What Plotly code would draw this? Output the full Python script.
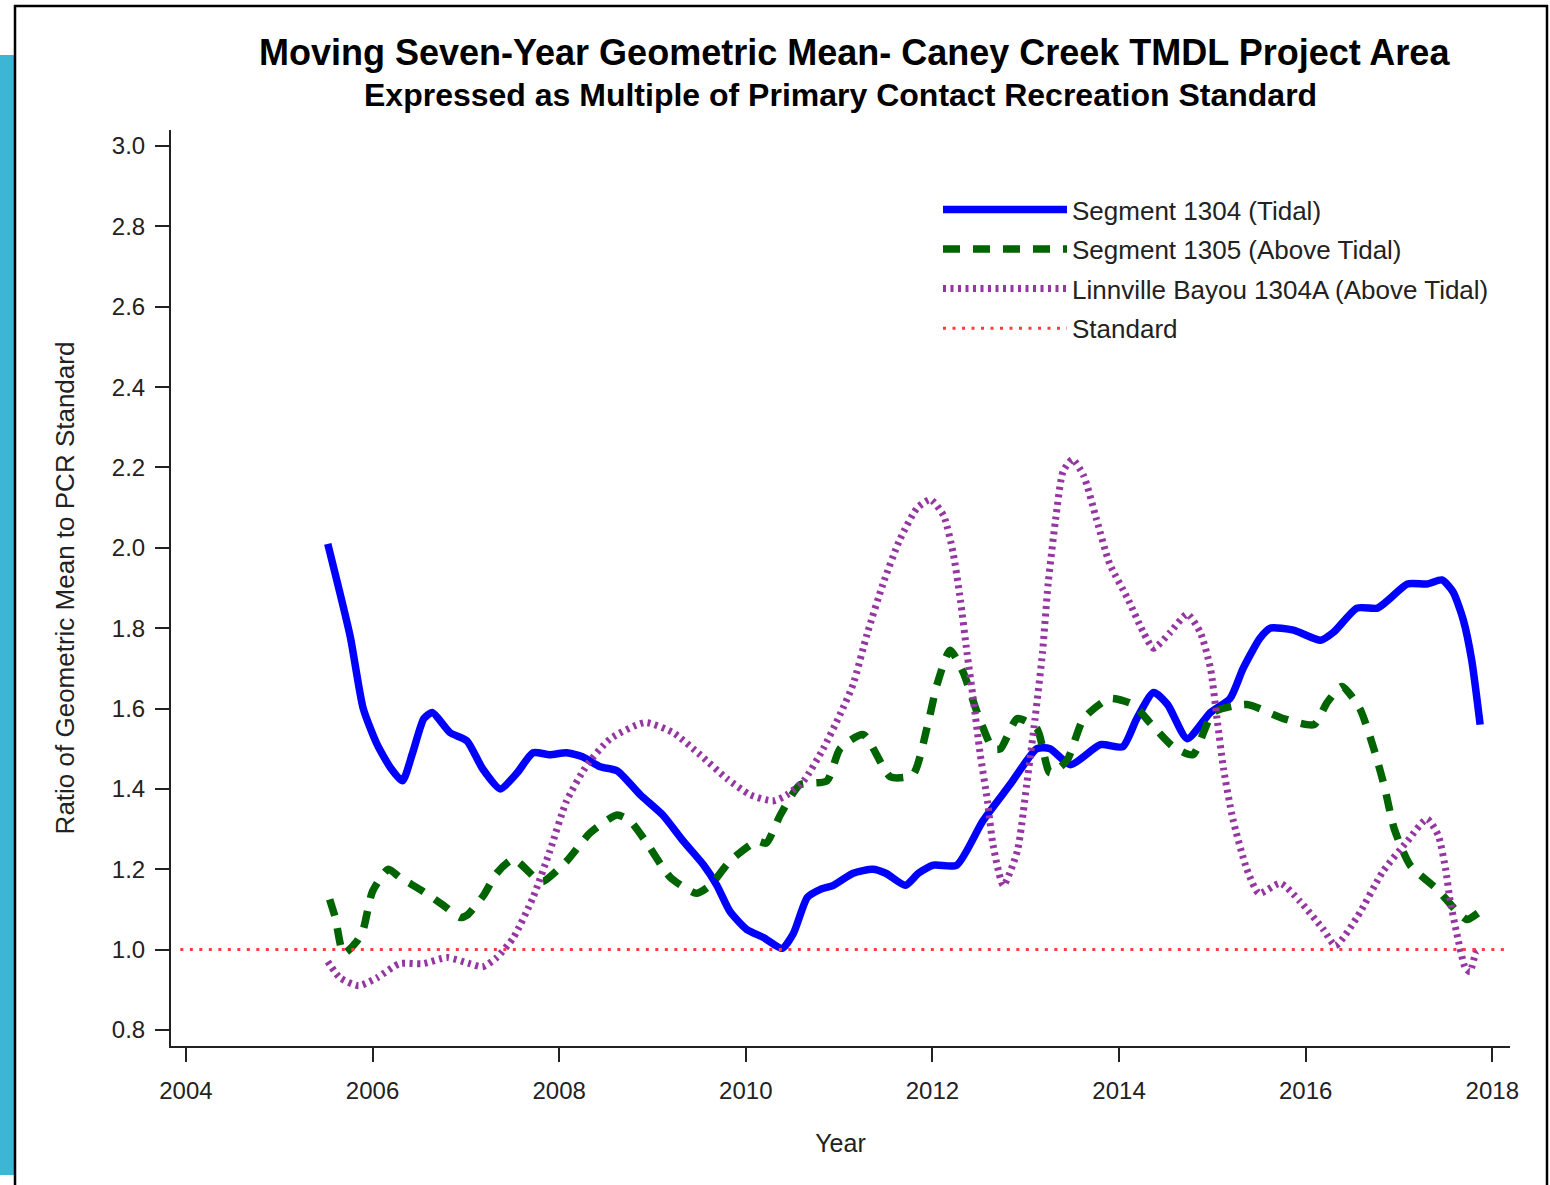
import plotly.graph_objects as go

# Segment 1304 (Tidal)
seg1304_year = [2005.52, 2005.76, 2005.90, 2006.05, 2006.20, 2006.32, 2006.43, 2006.55, 2006.64,
                2006.83, 2007.01, 2007.18, 2007.37, 2007.55, 2007.72, 2007.90, 2008.08, 2008.25,
                2008.44, 2008.62, 2008.87, 2009.11, 2009.33, 2009.55, 2009.69, 2009.83, 2010.01,
                2010.19, 2010.39, 2010.51, 2010.66, 2010.80, 2010.94, 2011.15, 2011.36, 2011.50,
                2011.71, 2011.85, 2012.01, 2012.26, 2012.54, 2012.83, 2013.12, 2013.26, 2013.48,
                2013.80, 2014.04, 2014.19, 2014.37, 2014.52, 2014.73, 2014.98, 2015.19, 2015.33,
                2015.51, 2015.62, 2015.87, 2016.16, 2016.30, 2016.55, 2016.77, 2016.91, 2017.09,
                2017.30, 2017.46, 2017.58, 2017.69, 2017.78, 2017.87]
seg1304_val = [2.01, 1.78, 1.60, 1.51, 1.45, 1.42, 1.49, 1.575, 1.59,
               1.54, 1.52, 1.45, 1.40, 1.44, 1.49, 1.485, 1.49, 1.48,
               1.455, 1.445, 1.385, 1.335, 1.27, 1.21, 1.16, 1.095, 1.05,
               1.03, 1.003, 1.04, 1.13, 1.15, 1.16, 1.19, 1.20, 1.19,
               1.16, 1.19, 1.21, 1.21, 1.32, 1.41, 1.50, 1.50, 1.46,
               1.51, 1.505, 1.575, 1.64, 1.61, 1.525, 1.59, 1.625, 1.70,
               1.775, 1.80, 1.795, 1.77, 1.79, 1.85, 1.85, 1.875, 1.91,
               1.91, 1.92, 1.89, 1.82, 1.72, 1.56]

# Segment 1305 (Above Tidal)
seg1305_year = [2005.54, 2005.60, 2005.69, 2005.83, 2005.90, 2006.00, 2006.17, 2006.29, 2006.54,
                2006.76, 2006.94, 2007.01, 2007.19, 2007.33, 2007.51, 2007.76, 2007.83, 2008.08,
                2008.33, 2008.62, 2008.76, 2008.94, 2009.19, 2009.47, 2009.62, 2009.83, 2010.12,
                2010.22, 2010.37, 2010.58, 2010.87, 2011.01, 2011.26, 2011.55, 2011.79, 2011.94,
                2012.05, 2012.19, 2012.33, 2012.48, 2012.65, 2012.73, 2012.91, 2013.12, 2013.26,
                2013.44, 2013.62, 2013.90, 2014.15, 2014.33, 2014.58, 2014.79, 2015.01, 2015.37,
                2015.76, 2016.09, 2016.23, 2016.39, 2016.58, 2016.73, 2016.84, 2016.95, 2017.12,
                2017.41, 2017.62, 2017.73, 2017.87]
seg1305_val = [1.125, 1.08, 0.99, 1.02, 1.05, 1.145, 1.20, 1.18, 1.145,
               1.11, 1.08, 1.085, 1.135, 1.19, 1.225, 1.175, 1.17, 1.22,
               1.29, 1.335, 1.32, 1.265, 1.18, 1.14, 1.16, 1.22, 1.27,
               1.265, 1.335, 1.41, 1.42, 1.50, 1.535, 1.43, 1.435, 1.55,
               1.66, 1.745, 1.69, 1.59, 1.50, 1.50, 1.575, 1.55, 1.44,
               1.47, 1.575, 1.625, 1.61, 1.565, 1.505, 1.485, 1.59, 1.61,
               1.575, 1.56, 1.615, 1.655, 1.60, 1.50, 1.41, 1.30, 1.21,
               1.15, 1.095, 1.075, 1.095]

# Linnville Bayou 1304A (Above Tidal)
lb1304a_year = [2005.52, 2005.65, 2005.85, 2006.05, 2006.29, 2006.54, 2006.80, 2007.04, 2007.18,
                2007.33, 2007.51, 2007.72, 2007.90, 2008.08, 2008.30, 2008.55, 2008.92, 2009.22,
                2009.51, 2009.80, 2010.05, 2010.29, 2010.44, 2010.62, 2010.83, 2011.01, 2011.15,
                2011.30, 2011.47, 2011.65, 2011.84, 2011.98, 2012.12, 2012.22, 2012.30, 2012.37,
                2012.44, 2012.51, 2012.59, 2012.65, 2012.76, 2012.91, 2013.01, 2013.10, 2013.18,
                2013.24, 2013.32, 2013.40, 2013.50, 2013.62, 2013.76, 2013.90, 2014.09, 2014.26,
                2014.37, 2014.55, 2014.73, 2014.87, 2014.98, 2015.05, 2015.12, 2015.22, 2015.37,
                2015.50, 2015.73, 2015.94, 2016.19, 2016.32, 2016.55, 2016.83, 2017.09, 2017.30,
                2017.42, 2017.50, 2017.55, 2017.62, 2017.71, 2017.76, 2017.83, 2017.87]
lb1304a_val = [0.97, 0.93, 0.91, 0.93, 0.965, 0.965, 0.98, 0.965, 0.957,
               0.98, 1.03, 1.13, 1.245, 1.37, 1.46, 1.525, 1.565, 1.54,
               1.485, 1.425, 1.385, 1.37, 1.385, 1.42, 1.50, 1.585, 1.66,
               1.785, 1.91, 2.02, 2.10, 2.12, 2.08, 1.99, 1.87, 1.74,
               1.62, 1.49, 1.37, 1.26, 1.16, 1.245, 1.41, 1.575, 1.74,
               1.91, 2.07, 2.19, 2.22, 2.18, 2.07, 1.96, 1.875, 1.79,
               1.75, 1.79, 1.835, 1.79, 1.70, 1.575, 1.45, 1.325, 1.20,
               1.14, 1.165, 1.12, 1.05, 1.01, 1.08, 1.195, 1.27, 1.325,
               1.285, 1.20, 1.12, 1.04, 0.955, 0.945, 0.995, 1.00]

# Standard (ratio = 1)
std_year = [2003.94, 2018.17]
std_val = [1.0, 1.0]

x_ticks = [2004, 2006, 2008, 2010, 2012, 2014, 2016, 2018]
y_ticks = [0.8, 1.0, 1.2, 1.4, 1.6, 1.8, 2.0, 2.2, 2.4, 2.6, 2.8, 3.0]

W, H = 1550, 1185
L, R, T, B = 171, 40, 130, 139
pw, ph = W - L - R, H - T - B


def px(x):
    return (x - L) / pw


def py(y):
    return (H - B - y) / ph


FONT = 'Liberation Sans, Arial, sans-serif'

fig = go.Figure()
fig.add_scatter(x=seg1304_year, y=seg1304_val, mode='lines', name='Segment 1304 (Tidal)',
                legendgroup='a', line=dict(color='#0000FF', width=7.5, shape='spline', smoothing=0.6))
fig.add_scatter(x=seg1305_year, y=seg1305_val, mode='lines', name='Segment 1305 (Above Tidal)',
                legendgroup='b', line=dict(color='#006400', width=7.5, dash='17px,13px', shape='spline', smoothing=0.6))
fig.add_scatter(x=lb1304a_year, y=lb1304a_val, mode='lines', name='Linnville Bayou 1304A (Above Tidal)',
                legendgroup='c', line=dict(color='#9536A3', width=7, dash='3px,4.5px', shape='spline', smoothing=0.6))
fig.add_scatter(x=std_year, y=std_val, mode='lines', name='Standard',
                legendgroup='d', line=dict(color='#FF3B3B', width=3, dash='3px,6.5px'))

axis_common = dict(showline=True, linecolor='#222', linewidth=2, ticks='outside', ticklen=14,
                   tickwidth=2, tickcolor='#222', showgrid=False, zeroline=False,
                   tickfont=dict(family=FONT, size=24, color='#222'))

fig.update_layout(
    width=W, height=H,
    margin=dict(l=L, r=R, t=T, b=B),
    paper_bgcolor='white', plot_bgcolor='white',
    font=dict(family=FONT, color='#222'),
    xaxis=dict(range=[2003.84, 2018.19], tickvals=x_ticks, ticklabelstandoff=8,
               title=dict(text='Year', font=dict(family=FONT, size=25, color='#222'), standoff=32),
               **axis_common),
    yaxis=dict(range=[0.76, 3.04], tickvals=y_ticks, tickformat='.1f', ticklabelstandoff=5,
               title=dict(text='Ratio of Geometric Mean to PCR Standard',
                          font=dict(family=FONT, size=26, color='#222'), standoff=30),
               **axis_common),
    legend=dict(x=px(938), y=py(186), xanchor='left', yanchor='top', bgcolor='rgba(0,0,0,0)',
                font=dict(family=FONT, size=26, color='#222'), itemwidth=124,
                tracegroupgap=2.8, traceorder='grouped'),
    showlegend=True,
)

fig.add_annotation(text='<b>Moving Seven-Year Geometric Mean- Caney Creek TMDL Project Area</b>',
                   xref='paper', yref='paper', x=px(854), y=py(53), xanchor='center', yanchor='middle',
                   showarrow=False, font=dict(family=FONT, size=36, color='black'))
fig.add_annotation(text='<b>Expressed as Multiple of Primary Contact Recreation Standard</b>',
                   xref='paper', yref='paper', x=px(840), y=py(95), xanchor='center', yanchor='middle',
                   showarrow=False, font=dict(family=FONT, size=32, color='black'))

# page frame and left accent bar
fig.add_shape(type='rect', xref='paper', yref='paper', x0=px(0), x1=px(14), y0=py(1175), y1=py(55),
              fillcolor='#3DB5D5', line=dict(width=0), layer='below')
fig.add_shape(type='line', xref='paper', yref='paper', x0=px(15), x1=px(15), y0=py(5), y1=py(1185),
              line=dict(color='black', width=2.5))
fig.add_shape(type='line', xref='paper', yref='paper', x0=px(14), x1=px(1548), y0=py(6), y1=py(6),
              line=dict(color='black', width=2.5))
fig.add_shape(type='line', xref='paper', yref='paper', x0=px(1547), x1=px(1547), y0=py(5), y1=py(1185),
              line=dict(color='black', width=2.5))

fig.write_html("out.html", config={'displayModeBar': False},
               post_script="document.body.style.margin='0';")
